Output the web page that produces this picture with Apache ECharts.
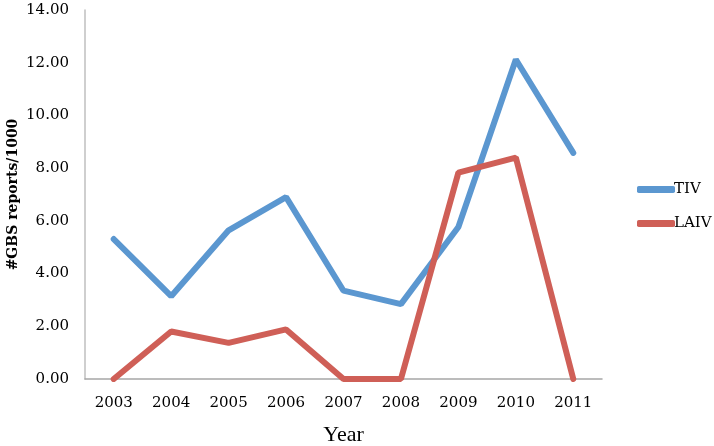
<!DOCTYPE html>
<html>
<head>
<meta charset="utf-8">
<script src="https://cdn.jsdelivr.net/npm/echarts@6/dist/echarts.min.js"></script>
<style>
  html, body { margin: 0; padding: 0; background: #fff; }
  #chartDom { width: 714px; height: 446px; }
</style>
</head>
<body>
<div id="chartDom"></div>
<script>
// data
const years = ["2003", "2004", "2005", "2006", "2007", "2008", "2009", "2010", "2011"];
const tivData = [5.31, 3.14, 5.64, 6.9, 3.35, 2.84, 5.77, 12.12, 8.58];
const laivData = [0, 1.8, 1.37, 1.88, 0, 0, 7.83, 8.4, 0];
const seriesNames = ["TIV", "LAIV"];
const seriesColors = ["#5B97D0", "#CF5F57"];

const serif = "'DejaVu Serif', 'Liberation Serif', serif";
const timesLike = "'Liberation Serif', serif";

let myChart = echarts.init(document.getElementById("chartDom"));
const option = {
  animation: false,
  backgroundColor: "#fff",
  grid: {
    left: 85,
    right: 112,
    top: 10,
    bottom: 67,
    containLabel: false,
    outerBoundsMode: "none",
  },
  legend: {
    orient: "vertical",
    left: 632,
    top: 177,
    itemWidth: 38,
    itemHeight: 7,
    itemGap: 19,
    icon: "roundRect",
    textStyle: { fontFamily: serif, fontSize: 15, color: "#000", padding: [0, 0, 0, -6] },
    data: seriesNames,
  },
  xAxis: {
    type: "category",
    data: years,
    boundaryGap: true,
    name: "Year",
    nameLocation: "middle",
    nameGap: 45,
    nameMoveOverlap: false,
    nameTextStyle: { fontFamily: timesLike, fontSize: 22, color: "#000" },
    axisLine: { lineStyle: { color: "#A6A6A6", width: 1.5 } },
    axisTick: { show: false },
    axisLabel: { fontFamily: serif, fontSize: 15, color: "#000", margin: 17 },
  },
  yAxis: {
    type: "value",
    min: 0,
    max: 14,
    interval: 2,
    name: "#GBS reports/1000",
    nameLocation: "middle",
    nameGap: 65,
    nameMoveOverlap: false,
    nameTextStyle: { fontFamily: serif, fontSize: 14, fontWeight: "bold", color: "#000" },
    axisLine: { show: true, lineStyle: { color: "#BFBFBF", width: 1.5 } },
    axisTick: { show: false },
    splitLine: { show: false },
    axisLabel: {
      fontFamily: serif,
      fontSize: 15,
      color: "#000",
      margin: 16,
      formatter: (v) => v.toFixed(2),
    },
  },
  series: [
    {
      name: seriesNames[0],
      type: "line",
      data: tivData,
      showSymbol: false,
      symbol: "none",
      color: seriesColors[0],
      lineStyle: { width: 6, color: seriesColors[0], cap: "round" },
    },
    {
      name: seriesNames[1],
      type: "line",
      data: laivData,
      showSymbol: false,
      symbol: "none",
      color: seriesColors[1],
      lineStyle: { width: 6, color: seriesColors[1], cap: "round" },
    },
  ],
};

option && myChart.setOption(option);
</script>
</body>
</html>
